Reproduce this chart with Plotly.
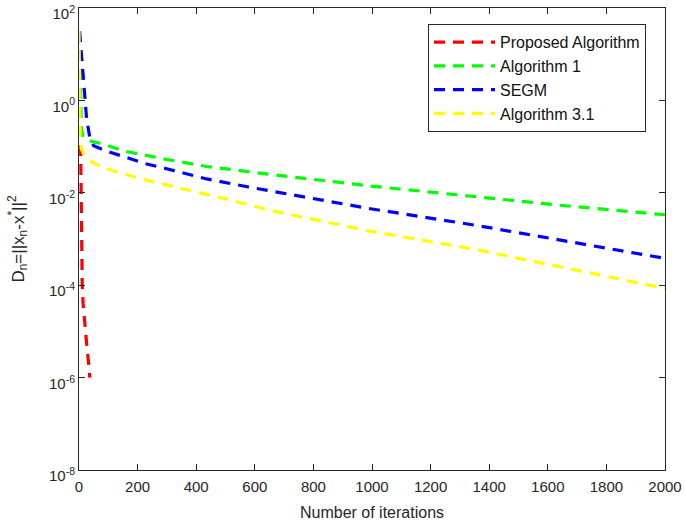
import plotly.graph_objects as go

# Iteration numbers and log10 of D_n
red_x = [1, 3, 5, 7, 9, 11, 14, 18, 23, 28, 33, 37]
red_log = [1.5, 0.0, -1.0, -2.0, -3.0, -4.0, -4.4, -4.75, -5.1, -5.4, -5.7, -6.0]

green_x = [1, 3, 5, 8, 14, 40, 89, 157, 293, 436, 576, 650, 1004, 1357, 1642, 2000]
green_log = [1.5, 1.0, 0.0, -0.6, -0.8, -0.88, -0.96, -1.10, -1.27, -1.43, -1.54, -1.60,
             -1.86, -2.095, -2.27, -2.475]

blue_x = [2, 9, 15, 20, 26, 37, 50, 95, 163, 228, 299, 365, 436, 574, 646, 995, 1357, 1642, 2000]
blue_log = [1.5, 1.0, 0.53, 0.06, -0.4, -0.81, -0.98, -1.10, -1.245, -1.37, -1.48, -1.58,
            -1.70, -1.87, -1.95, -2.345, -2.706, -3.02, -3.42]

yellow_x = [0, 2, 4, 8, 20, 40, 83, 225, 365, 506, 646, 993, 1357, 1642, 2000]
yellow_log = [1.5, 0.5, -0.85, -1.05, -1.22, -1.32, -1.46, -1.72, -1.93, -2.14, -2.37,
              -2.83, -3.23, -3.60, -4.07]

series_names = ["Proposed Algorithm", "Algorithm 1", "SEGM", "Algorithm 3.1"]
series_colors = ["#FF0000", "#00FF00", "#0000FF", "#FFFF00"]

x_ticks = list(range(0, 2001, 200))
y_tick_exps = [-8, -6, -4, -2, 0, 2]

fig = go.Figure()
for name, color, xs, ls in zip(series_names, series_colors,
                               [red_x, green_x, blue_x, yellow_x],
                               [red_log, green_log, blue_log, yellow_log]):
    fig.add_trace(go.Scatter(
        x=xs, y=[10 ** v for v in ls], mode="lines", name=name,
        line=dict(color=color, width=3.2, dash="11px,8px"),
    ))

font_family = "Liberation Sans, Arial, sans-serif"
fig.update_layout(
    width=685, height=521,
    margin=dict(l=79, r=20, t=8, b=51, autoexpand=False),
    paper_bgcolor="white", plot_bgcolor="white",
    font=dict(family=font_family, size=15, color="#262626"),
    showlegend=True,
    legend=dict(
        x=0.5956, y=0.965, xanchor="left", yanchor="top",
        bgcolor="white", bordercolor="#262626", borderwidth=1,
        font=dict(size=16, family=font_family, color="#111"),
        tracegroupgap=0, itemwidth=61,
    ),
    xaxis=dict(
        range=[0, 2000], tickvals=x_ticks, ticktext=[str(t) for t in x_ticks],
        ticks="inside", ticklen=6, tickcolor="#262626", showline=True, linecolor="#262626",
        linewidth=1, mirror="ticks", showgrid=False, zeroline=False, automargin=False,
        ticklabeloverflow="allow", ticklabelstandoff=3,
        title=dict(text="Number of iterations", font=dict(size=16), standoff=12),
        tickfont=dict(size=15),
    ),
    yaxis=dict(
        type="log", range=[-8, 2],
        tickvals=[10 ** e for e in y_tick_exps],
        ticktext=["10<sup>%d</sup>" % e for e in y_tick_exps],
        ticks="inside", ticklen=6, tickcolor="#262626", showline=True, linecolor="#262626",
        linewidth=1, mirror="ticks", showgrid=False, zeroline=False, automargin=False,
        ticklabeloverflow="allow", ticklabelshift=6,
        title=dict(text="D<sub>n</sub>=||x<sub>n</sub>-x<sup>*</sup>||<sup>2</sup>",
                   font=dict(size=17), standoff=20),
        tickfont=dict(size=15),
    ),
)

fig.write_html("out.html", config={"displayModeBar": False},
               post_script="document.body.style.margin='0';")
